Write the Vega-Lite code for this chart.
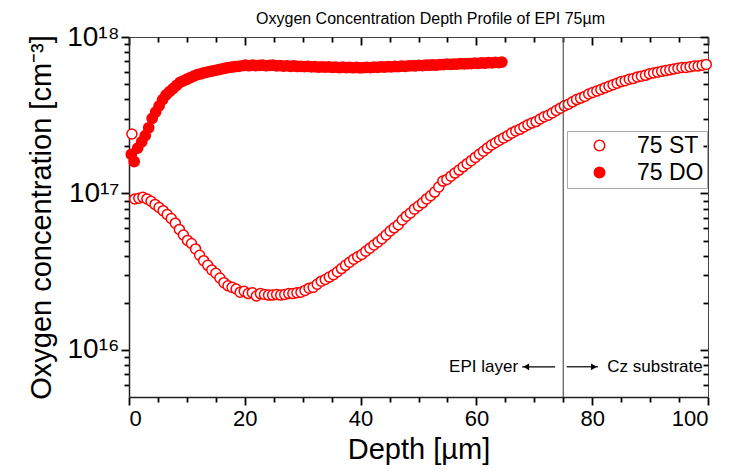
{
"$schema":"https://vega.github.io/schema/vega-lite/v6.json",
"width":579,"height":360,
"autosize":{"type":"none"},
"padding":{"left":129,"top":37,"right":21,"bottom":77},
"title":{"text":"Oxygen Concentration Depth Profile of EPI 75µm","fontSize":16,"fontWeight":"normal","offset":-4,"dx":12,"color":"black"},
"config":{"font":"Liberation Sans","view":{"stroke":null},"axis":{"grid":false,"labelColor":"black","titleColor":"black","titleFontWeight":"normal","domainColor":"#222"}},
"datasets":{
"st":[
{"d":0.5,"c":2.40e17},{"d":1.0,"c":9.23e16},{"d":1.7,"c":9.33e16},{"d":2.4,"c":9.44e16},{"d":3.1,"c":9.23e16},{"d":3.8,"c":8.91e16},{"d":4.5,"c":8.51e16},{"d":5.2,"c":8.13e16},{"d":5.9,"c":7.76e16},{"d":6.6,"c":7.33e16},{"d":7.3,"c":6.92e16},{"d":8.0,"c":6.46e16},{"d":8.7,"c":5.89e16},{"d":9.4,"c":5.43e16},{"d":10.1,"c":5.01e16},{"d":10.8,"c":4.79e16},{"d":11.5,"c":4.42e16},{"d":12.2,"c":4.03e16},{"d":12.9,"c":3.72e16},{"d":13.6,"c":3.47e16},{"d":14.3,"c":3.24e16},{"d":15.0,"c":3.09e16},{"d":15.7,"c":2.88e16},{"d":16.4,"c":2.69e16},{"d":17.1,"c":2.57e16},{"d":17.8,"c":2.51e16},{"d":18.5,"c":2.45e16},{"d":19.2,"c":2.34e16},{"d":19.9,"c":2.37e16},{"d":20.6,"c":2.29e16},{"d":21.3,"c":2.32e16},{"d":22.0,"c":2.21e16},{"d":22.7,"c":2.29e16},{"d":23.4,"c":2.26e16},{"d":24.1,"c":2.24e16},{"d":24.8,"c":2.24e16},{"d":25.5,"c":2.26e16},{"d":26.2,"c":2.24e16},{"d":26.9,"c":2.26e16},{"d":27.6,"c":2.29e16},{"d":28.3,"c":2.29e16},{"d":29.0,"c":2.32e16},{"d":29.7,"c":2.34e16},{"d":30.4,"c":2.40e16},{"d":31.1,"c":2.48e16},{"d":31.8,"c":2.51e16},{"d":32.5,"c":2.63e16},{"d":33.2,"c":2.75e16},{"d":33.9,"c":2.82e16},{"d":34.6,"c":2.92e16},{"d":35.3,"c":3.02e16},{"d":36.0,"c":3.16e16},{"d":36.7,"c":3.31e16},{"d":37.4,"c":3.47e16},{"d":38.1,"c":3.63e16},{"d":38.8,"c":3.80e16},{"d":39.5,"c":3.94e16},{"d":40.2,"c":4.07e16},{"d":40.9,"c":4.27e16},{"d":41.6,"c":4.47e16},{"d":42.3,"c":4.68e16},{"d":43.0,"c":4.90e16},{"d":43.7,"c":5.13e16},{"d":44.4,"c":5.43e16},{"d":45.1,"c":5.75e16},{"d":45.8,"c":6.03e16},{"d":46.5,"c":6.31e16},{"d":47.2,"c":6.76e16},{"d":47.9,"c":7.16e16},{"d":48.6,"c":7.50e16},{"d":49.3,"c":7.94e16},{"d":50.0,"c":8.32e16},{"d":50.7,"c":8.71e16},{"d":51.4,"c":9.23e16},{"d":52.1,"c":9.66e16},{"d":52.8,"c":1.02e17},{"d":53.5,"c":1.10e17},{"d":54.2,"c":1.20e17},{"d":54.9,"c":1.23e17},{"d":55.6,"c":1.29e17},{"d":56.3,"c":1.35e17},{"d":57.0,"c":1.41e17},{"d":57.7,"c":1.48e17},{"d":58.4,"c":1.55e17},{"d":59.1,"c":1.62e17},{"d":59.8,"c":1.70e17},{"d":60.5,"c":1.78e17},{"d":61.2,"c":1.86e17},{"d":61.9,"c":1.95e17},{"d":62.6,"c":2.04e17},{"d":63.3,"c":2.11e17},{"d":64.0,"c":2.19e17},{"d":64.7,"c":2.26e17},{"d":65.4,"c":2.34e17},{"d":66.1,"c":2.43e17},{"d":66.8,"c":2.51e17},{"d":67.5,"c":2.57e17},{"d":68.2,"c":2.66e17},{"d":68.9,"c":2.75e17},{"d":69.6,"c":2.82e17},{"d":70.3,"c":2.88e17},{"d":71.0,"c":2.99e17},{"d":71.7,"c":3.09e17},{"d":72.4,"c":3.16e17},{"d":73.1,"c":3.27e17},{"d":73.8,"c":3.39e17},{"d":74.5,"c":3.51e17},{"d":75.2,"c":3.63e17},{"d":75.9,"c":3.72e17},{"d":76.6,"c":3.85e17},{"d":77.3,"c":3.98e17},{"d":78.0,"c":4.07e17},{"d":78.7,"c":4.17e17},{"d":79.4,"c":4.32e17},{"d":80.1,"c":4.42e17},{"d":80.8,"c":4.52e17},{"d":81.5,"c":4.62e17},{"d":82.2,"c":4.73e17},{"d":82.9,"c":4.84e17},{"d":83.6,"c":4.95e17},{"d":84.3,"c":5.07e17},{"d":85.0,"c":5.19e17},{"d":85.7,"c":5.25e17},{"d":86.4,"c":5.37e17},{"d":87.1,"c":5.43e17},{"d":87.8,"c":5.56e17},{"d":88.5,"c":5.62e17},{"d":89.2,"c":5.69e17},{"d":89.9,"c":5.82e17},{"d":90.6,"c":5.89e17},{"d":91.3,"c":5.96e17},{"d":92.0,"c":6.03e17},{"d":92.7,"c":6.10e17},{"d":93.4,"c":6.17e17},{"d":94.1,"c":6.24e17},{"d":94.8,"c":6.31e17},{"d":95.5,"c":6.38e17},{"d":96.2,"c":6.38e17},{"d":96.9,"c":6.46e17},{"d":97.6,"c":6.53e17},{"d":98.3,"c":6.53e17},{"d":99.0,"c":6.61e17},{"d":99.7,"c":6.68e17}
],
"do":[
{"d":0.4,"c":1.78e17},{"d":0.9,"c":1.60e17},{"d":1.5,"c":1.95e17},{"d":2.2,"c":2.14e17},{"d":2.8,"c":2.34e17},{"d":3.4,"c":2.63e17},{"d":4.0,"c":3.02e17},{"d":4.6,"c":3.31e17},{"d":5.2,"c":3.63e17},{"d":5.8,"c":3.98e17},{"d":6.4,"c":4.27e17},{"d":7.0,"c":4.47e17},{"d":7.6,"c":4.68e17},{"d":8.2,"c":4.90e17},{"d":8.8,"c":5.13e17},{"d":9.4,"c":5.25e17},{"d":10.0,"c":5.37e17},{"d":10.6,"c":5.50e17},{"d":11.2,"c":5.62e17},{"d":11.8,"c":5.75e17},{"d":12.4,"c":5.82e17},{"d":12.9,"c":5.89e17},{"d":13.5,"c":5.96e17},{"d":14.1,"c":6.03e17},{"d":14.7,"c":6.10e17},{"d":15.3,"c":6.17e17},{"d":15.9,"c":6.24e17},{"d":16.5,"c":6.31e17},{"d":17.1,"c":6.38e17},{"d":17.7,"c":6.42e17},{"d":18.3,"c":6.46e17},{"d":18.9,"c":6.50e17},{"d":19.5,"c":6.55e17},{"d":20.1,"c":6.61e17},{"d":20.7,"c":6.55e17},{"d":21.3,"c":6.61e17},{"d":21.9,"c":6.57e17},{"d":22.5,"c":6.59e17},{"d":23.1,"c":6.62e17},{"d":23.7,"c":6.55e17},{"d":24.3,"c":6.58e17},{"d":24.9,"c":6.60e17},{"d":25.5,"c":6.54e17},{"d":26.1,"c":6.57e17},{"d":26.7,"c":6.51e17},{"d":27.3,"c":6.55e17},{"d":27.9,"c":6.50e17},{"d":28.5,"c":6.53e17},{"d":29.1,"c":6.48e17},{"d":29.7,"c":6.50e17},{"d":30.3,"c":6.46e17},{"d":30.9,"c":6.49e17},{"d":31.5,"c":6.44e17},{"d":32.1,"c":6.47e17},{"d":32.7,"c":6.43e17},{"d":33.3,"c":6.45e17},{"d":33.9,"c":6.41e17},{"d":34.5,"c":6.44e17},{"d":35.1,"c":6.40e17},{"d":35.7,"c":6.42e17},{"d":36.3,"c":6.38e17},{"d":36.9,"c":6.41e17},{"d":37.5,"c":6.37e17},{"d":38.1,"c":6.40e17},{"d":38.7,"c":6.36e17},{"d":39.3,"c":6.39e17},{"d":39.9,"c":6.35e17},{"d":40.5,"c":6.38e17},{"d":41.1,"c":6.40e17},{"d":41.7,"c":6.37e17},{"d":42.3,"c":6.42e17},{"d":42.9,"c":6.40e17},{"d":43.5,"c":6.44e17},{"d":44.1,"c":6.42e17},{"d":44.7,"c":6.46e17},{"d":45.3,"c":6.44e17},{"d":45.9,"c":6.48e17},{"d":46.5,"c":6.47e17},{"d":47.1,"c":6.51e17},{"d":47.7,"c":6.49e17},{"d":48.3,"c":6.53e17},{"d":48.9,"c":6.55e17},{"d":49.5,"c":6.53e17},{"d":50.1,"c":6.58e17},{"d":50.7,"c":6.56e17},{"d":51.3,"c":6.61e17},{"d":51.9,"c":6.60e17},{"d":52.5,"c":6.64e17},{"d":53.1,"c":6.62e17},{"d":53.7,"c":6.67e17},{"d":54.3,"c":6.66e17},{"d":54.9,"c":6.70e17},{"d":55.5,"c":6.68e17},{"d":56.1,"c":6.72e17},{"d":56.7,"c":6.71e17},{"d":57.3,"c":6.75e17},{"d":57.9,"c":6.73e17},{"d":58.5,"c":6.77e17},{"d":59.1,"c":6.76e17},{"d":59.7,"c":6.80e17},{"d":60.3,"c":6.78e17},{"d":60.9,"c":6.83e17},{"d":61.5,"c":6.81e17},{"d":62.1,"c":6.85e17},{"d":62.7,"c":6.84e17},{"d":63.3,"c":6.88e17},{"d":63.9,"c":6.87e17},{"d":64.4,"c":6.91e17}
]
},
"layer":[
{"data":{"name":"st"},"mark":{"type":"point","opacity":0},
 "encoding":{
  "x":{"field":"d","type":"quantitative","scale":{"domain":[0,100],"nice":false,"zero":false},
   "axis":{"orient":"bottom","values":[5,10,15,25,30,35,45,50,55,65,70,75,85,90,95],"ticks":true,"tickColor":"black","tickSize":5,"tickWidth":1.8,"labels":false,"domain":false,"title":null}},
  "y":{"field":"c","type":"quantitative","scale":{"type":"log","domain":[5e15,1e18],"nice":false},
   "axis":{"orient":"left","values":[6e15,7e15,8e15,9e15,2e16,3e16,4e16,5e16,6e16,7e16,8e16,9e16,2e17,3e17,4e17,5e17,6e17,7e17,8e17,9e17],"ticks":true,"tickColor":"black","tickSize":5,"tickWidth":1.8,"labels":false,"domain":false,"title":null}}}},
{"data":{"name":"st"},"mark":{"type":"point","opacity":0},
 "encoding":{
  "x":{"field":"d","type":"quantitative","scale":{"domain":[0,100],"nice":false,"zero":false},
   "axis":{"orient":"top","values":[0,20,40,60,80,100],"ticks":true,"tickColor":"black","tickSize":-8,"tickWidth":1.8,"labels":false,"domainWidth":1,"domainColor":"#444","title":null}},
  "y":{"field":"c","type":"quantitative","scale":{"type":"log","domain":[5e15,1e18],"nice":false},
   "axis":{"orient":"right","values":[1e16,1e17,1e18],"ticks":true,"tickColor":"black","tickSize":-8,"tickWidth":1.8,"labels":false,"domainWidth":1,"domainColor":"#444","title":null}}}},
{"data":{"name":"st"},"mark":{"type":"point","opacity":0},
 "encoding":{
  "x":{"field":"d","type":"quantitative","scale":{"domain":[0,100],"nice":false,"zero":false},
   "axis":{"orient":"top","values":[5,10,15,25,30,35,45,50,55,65,70,75,85,90,95],"ticks":true,"tickColor":"black","tickSize":-5,"tickWidth":1.8,"labels":false,"domain":false,"title":null}},
  "y":{"field":"c","type":"quantitative","scale":{"type":"log","domain":[5e15,1e18],"nice":false},
   "axis":{"orient":"right","values":[6e15,7e15,8e15,9e15,2e16,3e16,4e16,5e16,6e16,7e16,8e16,9e16,2e17,3e17,4e17,5e17,6e17,7e17,8e17,9e17],"ticks":true,"tickColor":"black","tickSize":-5,"tickWidth":1.8,"labels":false,"domain":false,"title":null}}}},
{"data":{"name":"do"},
 "mark":{"type":"point","shape":"circle","filled":true,"stroke":"red","strokeWidth":1.5,"size":105,"opacity":1},
 "encoding":{
  "x":{"field":"d","type":"quantitative","scale":{"domain":[0,100],"nice":false,"zero":false},"axis":null},
  "y":{"field":"c","type":"quantitative","scale":{"type":"log","domain":[5e15,1e18],"nice":false},"axis":null},
  "fill":{"datum":"75 DO","type":"nominal","scale":{"domain":["75 ST","75 DO"],"range":["white","red"]},
   "legend":{"title":null,"orient":"none","legendX":438,"legendY":94,"padding":3,"strokeColor":"#aaa","labelFontSize":23,"symbolSize":110,"symbolType":"circle","symbolStrokeColor":"red","symbolStrokeWidth":1.5,"rowPadding":3,"symbolOffset":18,"labelOffset":26,"labelLimit":0,"labelColor":"black"}}}},
{"data":{"name":"st"},
 "mark":{"type":"point","shape":"circle","filled":true,"stroke":"red","strokeWidth":1.5,"size":100,"opacity":1},
 "encoding":{
  "x":{"field":"d","type":"quantitative","scale":{"domain":[0,100],"nice":false,"zero":false},
   "axis":{"orient":"bottom","values":[0,20,40,60,80,100],"ticks":true,"tickColor":"black","tickSize":8,"tickWidth":1.8,"domainWidth":1.5,"labelFontSize":22,"labelPadding":3,"title":"Depth [µm]","titleFontSize":29,"titlePadding":6}},
  "y":{"field":"c","type":"quantitative","scale":{"type":"log","domain":[5e15,1e18],"nice":false},
   "axis":{"orient":"left","values":[1e16,1e17,1e18],"ticks":true,"tickColor":"black","tickSize":8,"tickWidth":1.8,"domainWidth":1.5,"labelFontSize":28,"labelPadding":2,"labelExpr":"round(log(datum.value)/LN10) == 16 ? '10¹⁶' : round(log(datum.value)/LN10) == 17 ? '10¹⁷' : '10¹⁸'","title":"Oxygen concentration [cm⁻³]","titleFontSize":29,"titlePadding":10}},
  "fill":{"datum":"75 ST","type":"nominal","scale":{"domain":["75 ST","75 DO"],"range":["white","red"]}}}},
{"data":{"values":[{"d":75}]},
 "mark":{"type":"rule","color":"#555","strokeWidth":1.2},
 "encoding":{"x":{"field":"d","type":"quantitative","axis":null}}},
{"data":{"values":[{"d":67.9,"d2":73.6,"c":7.8e15},{"d":75.6,"d2":81.0,"c":7.8e15}]},
 "mark":{"type":"rule","color":"black","strokeWidth":1.2},
 "encoding":{"x":{"field":"d","type":"quantitative","axis":null},"x2":{"field":"d2"},"y":{"field":"c","type":"quantitative","axis":null}}},
{"data":{"values":[{"d":68.6,"c":7.8e15,"h":"left"},{"d":80.3,"c":7.8e15,"h":"right"}]},
 "mark":{"type":"point","filled":true,"color":"black","size":45,"opacity":1},
 "encoding":{"x":{"field":"d","type":"quantitative","axis":null},"y":{"field":"c","type":"quantitative","axis":null},
  "shape":{"field":"h","type":"nominal","scale":{"domain":["left","right"],"range":["triangle-left","triangle-right"]},"legend":null}}},
{"data":{"values":[{"d":67.2,"c":7.8e15,"t":"EPI layer"}]},
 "mark":{"type":"text","align":"right","baseline":"middle","fontSize":17,"color":"black"},
 "encoding":{"x":{"field":"d","type":"quantitative","axis":null},"y":{"field":"c","type":"quantitative","axis":null},"text":{"field":"t"}}},
{"data":{"values":[{"d":82.6,"c":7.8e15,"t":"Cz substrate"}]},
 "mark":{"type":"text","align":"left","baseline":"middle","fontSize":17,"color":"black"},
 "encoding":{"x":{"field":"d","type":"quantitative","axis":null},"y":{"field":"c","type":"quantitative","axis":null},"text":{"field":"t"}}}
],
"resolve":{"axis":{"x":"independent","y":"independent"}}
}
